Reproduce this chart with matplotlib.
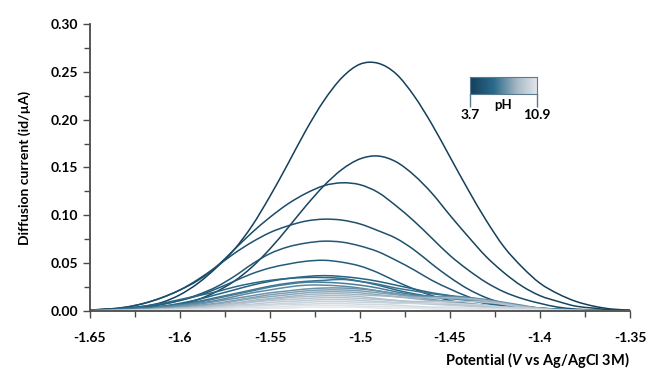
import numpy as np
import matplotlib
matplotlib.use("Agg")
import matplotlib.pyplot as plt
from matplotlib.colors import LinearSegmentedColormap
from matplotlib.ticker import MultipleLocator
from matplotlib.path import Path
from matplotlib.patches import PathPatch

plt.rcParams["font.family"] = ["Lato", "DejaVu Sans"]
plt.rcParams["mathtext.fontset"] = "custom"
plt.rcParams["mathtext.bfit"] = "Lato:italic:bold"

# potential grid (V vs Ag/AgCl 3M)
potential = np.round(np.arange(-1.65, -1.345, 0.01), 2)

# diffusion current (uA) per pH
i_ph37 = [0.001, 0.002, 0.003, 0.005, 0.009, 0.017, 0.029, 0.045, 0.064, 0.089, 0.120, 0.154, 0.189, 0.220, 0.244, 0.258,
          0.259, 0.248, 0.225, 0.195, 0.161, 0.127, 0.095, 0.067, 0.046, 0.029, 0.018, 0.010, 0.005, 0.002, 0.001]
i_ph40 = [0.0002, 0.0005, 0.001, 0.002, 0.004, 0.007, 0.012, 0.020, 0.031, 0.046, 0.065, 0.087, 0.110, 0.131, 0.148, 0.159,
          0.162, 0.156, 0.142, 0.123, 0.100, 0.078, 0.057, 0.040, 0.026, 0.016, 0.010, 0.005, 0.003, 0.001, 0.0005]
i_ph44 = [0.001, 0.002, 0.004, 0.008, 0.014, 0.022, 0.032, 0.046, 0.064, 0.082, 0.098, 0.112, 0.123, 0.131, 0.134, 0.132,
          0.124, 0.110, 0.094, 0.076, 0.058, 0.043, 0.030, 0.020, 0.013, 0.008, 0.004, 0.002, 0.001, 0.0005, 0.0002]
i_ph47 = [0.001, 0.002, 0.004, 0.008, 0.014, 0.022, 0.033, 0.046, 0.060, 0.072, 0.082, 0.089, 0.094, 0.096, 0.095, 0.091,
          0.084, 0.076, 0.064, 0.049, 0.035, 0.023, 0.014, 0.008, 0.005, 0.003, 0.002, 0.001, 0.0005, 0.0003, 0.0002]
i_ph51 = [0.0005, 0.001, 0.002, 0.004, 0.007, 0.011, 0.017, 0.025, 0.036, 0.049, 0.060, 0.067, 0.071, 0.073, 0.072, 0.068,
          0.062, 0.053, 0.043, 0.032, 0.023, 0.015, 0.009, 0.006, 0.004, 0.002, 0.001, 0.0005, 0.0003, 0.0002, 0.0001]
i_ph54 = [0.0005, 0.001, 0.002, 0.004, 0.007, 0.011, 0.016, 0.023, 0.031, 0.039, 0.045, 0.049, 0.052, 0.053, 0.051, 0.047,
          0.040, 0.031, 0.023, 0.016, 0.011, 0.007, 0.004, 0.002, 0.001, 0.0005, 0.0003, 0.0002, 0.0001, 0.0001, 0.0001]
i_ph58 = [0.0005, 0.001, 0.002, 0.003, 0.005, 0.008, 0.012, 0.017, 0.022, 0.027, 0.031, 0.034, 0.036, 0.037, 0.036, 0.034,
          0.031, 0.027, 0.023, 0.019, 0.016, 0.012, 0.008, 0.005, 0.003, 0.002, 0.001, 0.0005, 0.0003, 0.0002, 0.0001]
i_ph61 = [0.0005, 0.001, 0.003, 0.005, 0.008, 0.012, 0.016, 0.020, 0.025, 0.029, 0.032, 0.034, 0.035, 0.035, 0.034, 0.031,
          0.027, 0.022, 0.018, 0.015, 0.013, 0.011, 0.008, 0.005, 0.003, 0.002, 0.001, 0.0005, 0.0003, 0.0002, 0.0001]
i_ph65 = [0.0003, 0.001, 0.002, 0.003, 0.005, 0.007, 0.010, 0.014, 0.018, 0.022, 0.026, 0.029, 0.031, 0.032, 0.033, 0.031,
          0.028, 0.024, 0.021, 0.018, 0.016, 0.014, 0.011, 0.007, 0.004, 0.002, 0.001, 0.0005, 0.0003, 0.0002, 0.0001]
i_ph68 = [0.0003, 0.001, 0.002, 0.003, 0.004, 0.006, 0.009, 0.013, 0.017, 0.021, 0.025, 0.028, 0.030, 0.030, 0.029, 0.027,
          0.024, 0.020, 0.017, 0.015, 0.014, 0.013, 0.011, 0.008, 0.005, 0.003, 0.002, 0.001, 0.0005, 0.0002, 0.0001]
i_ph72 = [0.0003, 0.001, 0.001, 0.002, 0.004, 0.006, 0.008, 0.011, 0.015, 0.019, 0.022, 0.025, 0.027, 0.027, 0.026, 0.024,
          0.021, 0.018, 0.016, 0.015, 0.015, 0.014, 0.012, 0.009, 0.006, 0.003, 0.002, 0.001, 0.0005, 0.0002, 0.0001]
i_ph75 = [0.0002, 0.0005, 0.001, 0.002, 0.003, 0.005, 0.007, 0.010, 0.013, 0.016, 0.019, 0.021, 0.023, 0.024, 0.024, 0.023,
          0.021, 0.018, 0.015, 0.012, 0.010, 0.008, 0.006, 0.004, 0.003, 0.002, 0.001, 0.0005, 0.0003, 0.0002, 0.0001]
i_ph79 = [0.0002, 0.0005, 0.001, 0.002, 0.003, 0.004, 0.006, 0.008, 0.011, 0.014, 0.017, 0.019, 0.021, 0.022, 0.022, 0.021,
          0.019, 0.017, 0.015, 0.014, 0.013, 0.012, 0.010, 0.007, 0.004, 0.002, 0.001, 0.0005, 0.0003, 0.0002, 0.0001]
i_ph82 = [0.0002, 0.0005, 0.001, 0.001, 0.002, 0.003, 0.005, 0.007, 0.010, 0.013, 0.015, 0.017, 0.019, 0.020, 0.020, 0.019,
          0.017, 0.015, 0.013, 0.011, 0.009, 0.007, 0.005, 0.004, 0.003, 0.002, 0.001, 0.0005, 0.0003, 0.0002, 0.0001]
i_ph86 = [0.0002, 0.0004, 0.001, 0.001, 0.002, 0.003, 0.004, 0.006, 0.008, 0.011, 0.013, 0.015, 0.017, 0.018, 0.018, 0.017,
          0.016, 0.015, 0.014, 0.014, 0.014, 0.013, 0.011, 0.008, 0.005, 0.003, 0.001, 0.0005, 0.0003, 0.0002, 0.0001]
i_ph89 = [0.0002, 0.0004, 0.001, 0.001, 0.002, 0.003, 0.004, 0.006, 0.008, 0.010, 0.012, 0.014, 0.015, 0.016, 0.016, 0.015,
          0.013, 0.011, 0.009, 0.008, 0.007, 0.006, 0.005, 0.004, 0.003, 0.002, 0.001, 0.0005, 0.0003, 0.0002, 0.0001]
i_ph92 = [0.0001, 0.0003, 0.0005, 0.001, 0.002, 0.002, 0.003, 0.005, 0.007, 0.009, 0.011, 0.012, 0.013, 0.014, 0.014, 0.013,
          0.012, 0.011, 0.010, 0.010, 0.010, 0.010, 0.009, 0.007, 0.004, 0.002, 0.001, 0.0005, 0.0003, 0.0002, 0.0001]
i_ph95 = [0.0001, 0.0003, 0.0005, 0.001, 0.001, 0.002, 0.003, 0.004, 0.006, 0.007, 0.009, 0.010, 0.011, 0.012, 0.012, 0.011,
          0.010, 0.009, 0.008, 0.007, 0.006, 0.005, 0.004, 0.003, 0.002, 0.001, 0.0005, 0.0003, 0.0002, 0.0001, 0.0001]
i_ph99 = [0.0001, 0.0002, 0.0004, 0.001, 0.001, 0.002, 0.002, 0.003, 0.005, 0.006, 0.007, 0.008, 0.009, 0.010, 0.010, 0.009,
          0.009, 0.008, 0.008, 0.008, 0.008, 0.007, 0.006, 0.004, 0.003, 0.002, 0.001, 0.0005, 0.0003, 0.0002, 0.0001]
i_ph102 = [0.0001, 0.0002, 0.0003, 0.0005, 0.001, 0.001, 0.002, 0.003, 0.004, 0.005, 0.006, 0.007, 0.007, 0.008, 0.008, 0.007,
           0.007, 0.006, 0.005, 0.004, 0.004, 0.003, 0.003, 0.002, 0.001, 0.001, 0.0005, 0.0003, 0.0002, 0.0001, 0.0001]
i_ph106 = [0.0001, 0.0002, 0.0003, 0.0004, 0.0005, 0.001, 0.001, 0.002, 0.003, 0.004, 0.004, 0.005, 0.006, 0.006, 0.006, 0.005,
           0.005, 0.004, 0.004, 0.003, 0.003, 0.003, 0.002, 0.002, 0.001, 0.001, 0.0005, 0.0003, 0.0002, 0.0001, 0.0001]
i_ph109 = [0.0001, 0.0001, 0.0002, 0.0003, 0.0004, 0.0005, 0.001, 0.001, 0.002, 0.002, 0.003, 0.003, 0.004, 0.004, 0.004, 0.004,
           0.003, 0.003, 0.003, 0.002, 0.002, 0.002, 0.001, 0.001, 0.001, 0.0005, 0.0003, 0.0002, 0.0001, 0.0001, 0.0001]

ph_values = [3.7, 4.0, 4.4, 4.7, 5.1, 5.4, 5.8, 6.1, 6.5, 6.8, 7.2, 7.5, 7.9, 8.2, 8.6, 8.9, 9.2, 9.5, 9.9, 10.2, 10.6, 10.9]
currents = [i_ph37, i_ph40, i_ph44, i_ph47, i_ph51, i_ph54, i_ph58, i_ph61, i_ph65, i_ph68, i_ph72,
            i_ph75, i_ph79, i_ph82, i_ph86, i_ph89, i_ph92, i_ph95, i_ph99, i_ph102, i_ph106, i_ph109]

cmap = LinearSegmentedColormap.from_list(
    "ph", [(0.0, "#143f5a"), (0.35, "#2b6a8b"), (0.7, "#a9bac7"), (1.0, "#e4e8eb")])


def smooth_line(x, y):
    # "smoothed line" style: bezier segments through every data point
    p = np.column_stack([x, y])
    ext = np.vstack([p[0], p, p[-1]])
    verts = [p[0]]
    codes = [Path.MOVETO]
    for k in range(len(p) - 1):
        c1 = ext[k + 1] + (ext[k + 2] - ext[k]) / 6
        c2 = ext[k + 2] - (ext[k + 3] - ext[k + 1]) / 6
        verts += [c1, c2, p[k + 1]]
        codes += [Path.CURVE4] * 3
    return Path(verts, codes)


fig = plt.figure(figsize=(6.49, 3.70), dpi=100)
ax = fig.add_axes([90 / 649, 1 - 311 / 370, 540 / 649, 287 / 370])

for ph, cur in zip(ph_values, currents):
    t = (ph - ph_values[0]) / (ph_values[-1] - ph_values[0])
    ax.add_patch(PathPatch(smooth_line(potential, cur), fill=False, edgecolor=cmap(t), lw=1.1))

ax.set_xlim(-1.65, -1.35)
ax.set_ylim(0, 0.30)
ax.xaxis.set_major_locator(MultipleLocator(0.05))
ax.xaxis.set_minor_locator(MultipleLocator(0.025))
ax.yaxis.set_major_locator(MultipleLocator(0.05))
ax.yaxis.set_minor_locator(MultipleLocator(0.025))
ax.xaxis.set_major_formatter(plt.FuncFormatter(lambda v, p: f"{v:g}"))
ax.yaxis.set_major_formatter(plt.FuncFormatter(lambda v, p: f"{v:.2f}"))

for s in ["top", "right"]:
    ax.spines[s].set_visible(False)
for s in ["left", "bottom"]:
    ax.spines[s].set_color("#4a4a4a")
    ax.spines[s].set_linewidth(1.3)

ax.tick_params(which="both", direction="out", color="#4a4a4a", width=1.0)
ax.tick_params(which="major", length=5)
ax.tick_params(which="minor", length=4)
ax.tick_params(axis="x", which="major", pad=10)
for lab in ax.get_xticklabels() + ax.get_yticklabels():
    lab.set_fontweight("bold")
    lab.set_fontsize(10)

ax.set_ylabel("Diffusion current (id/µA)", fontsize=10, fontweight="bold", labelpad=14)
ax.set_xlabel(r"Potential ($\mathbfit{V}$ vs Ag/AgCl 3M)", fontsize=10.5, fontweight="bold")
ax.xaxis.set_label_coords(1.0, -0.135)
ax.xaxis.label.set_horizontalalignment("right")

# pH colour scale
cax = fig.add_axes([470 / 649, 1 - 94 / 370, 67 / 649, 17 / 370])
grad = np.linspace(0, 1, 256).reshape(1, -1)
cax.imshow(grad, aspect="auto", cmap=cmap, extent=[0, 1, 0, 1])
cax.set_yticks([])
cax.set_xticks([0, 1])
cax.set_xticklabels(["3.7", "10.9"], fontsize=10, fontweight="bold")
cax.tick_params(axis="x", length=9, width=1.0, color="#5a7a90", pad=2)
for s in cax.spines.values():
    s.set_color("#5a7a90")
    s.set_linewidth(0.8)
cax.text(0.5, -0.3, "pH", transform=cax.transAxes, ha="center", va="top",
         fontsize=9.5, fontweight="bold")

fig.savefig("out.png", dpi=100)
